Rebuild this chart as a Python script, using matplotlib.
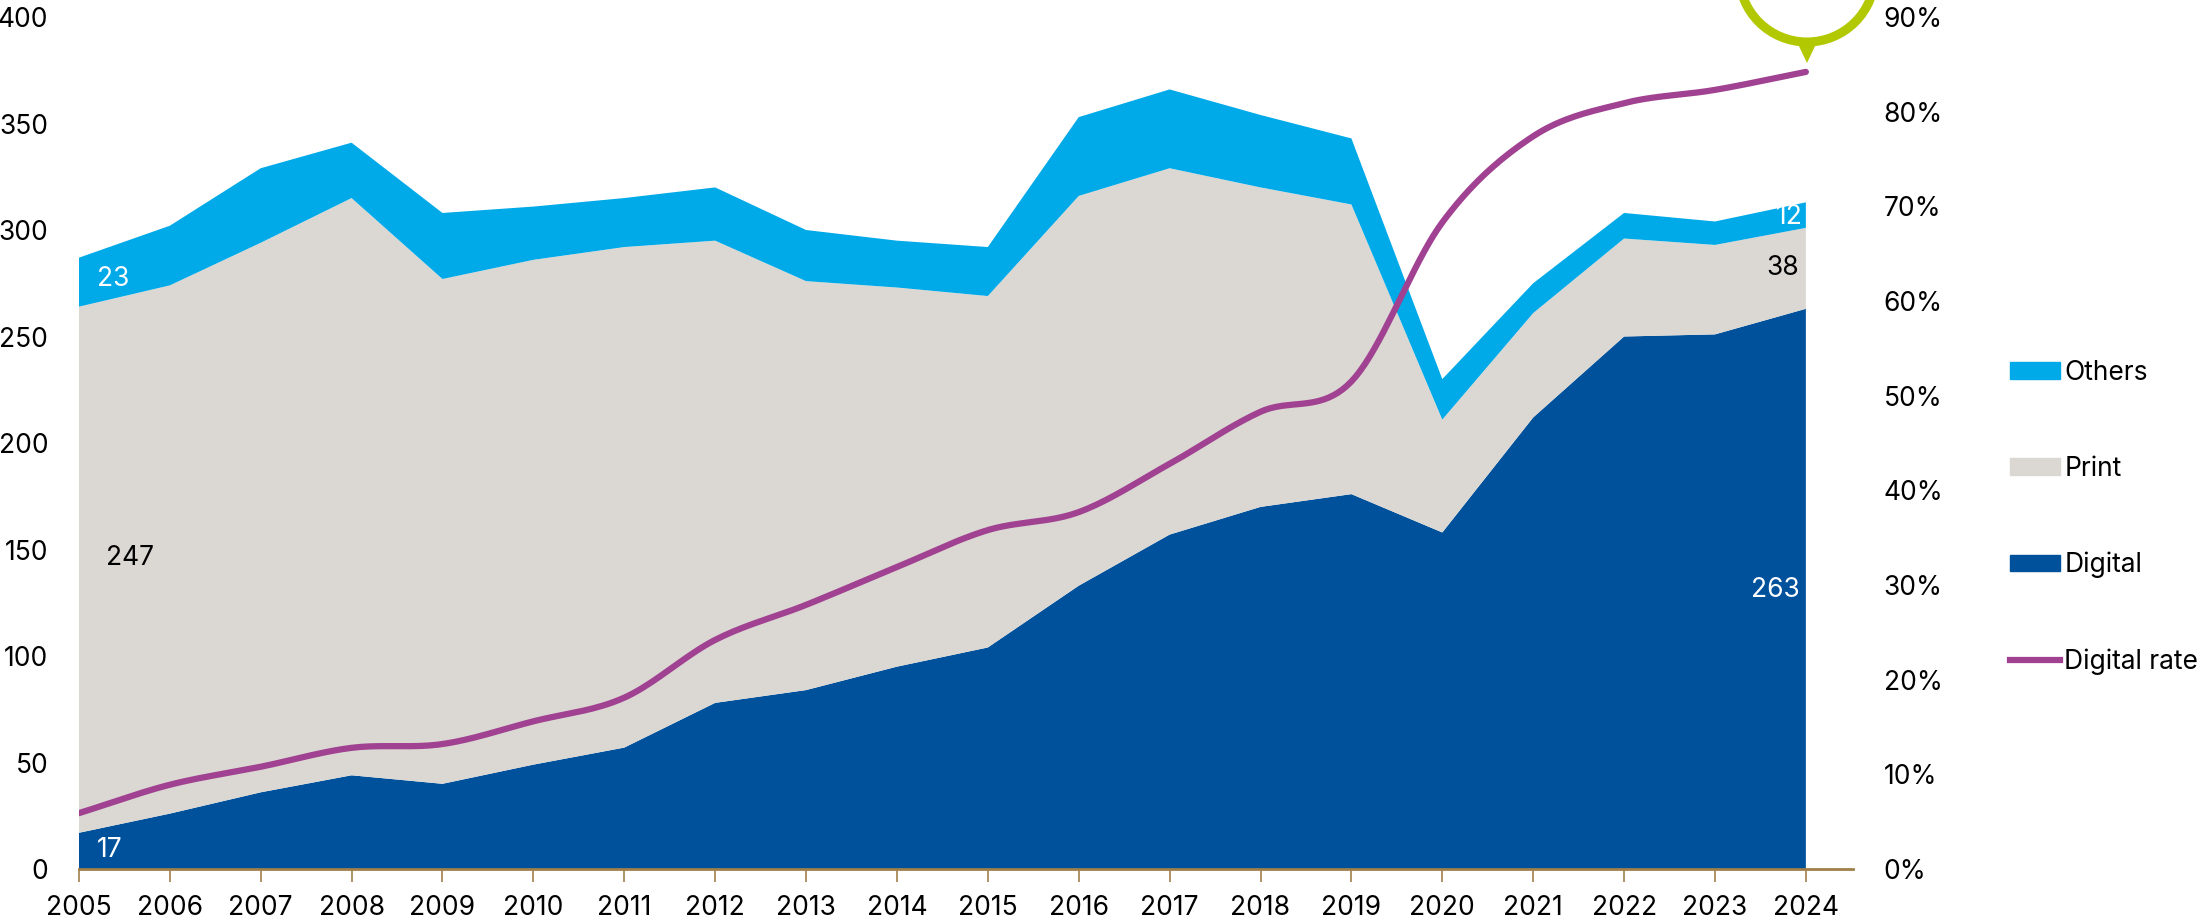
import numpy as np
import matplotlib.pyplot as plt
from matplotlib.patches import Patch, Circle, Polygon
from matplotlib.lines import Line2D

plt.rcParams['font.family'] = ['Inter', 'DejaVu Sans']

years = list(range(2005, 2025))
digital = [17, 26, 36, 44, 40, 49, 57, 78, 84, 95, 104, 133, 157, 170, 176, 158, 212, 250, 251, 263]
print_ = [247, 248, 258, 271, 237, 237, 235, 217, 192, 178, 165, 183, 172, 150, 136, 53, 49, 46, 42, 38]
others = [23, 28, 35, 26, 31, 25, 23, 25, 24, 22, 23, 37, 37, 34, 31, 19, 14, 12, 11, 12]
digital_rate = [5.9, 8.9, 10.8, 12.8, 13.2, 15.6, 18.1, 24.2, 27.9, 31.9, 35.8, 37.7, 42.8,
                48.3, 51.5, 68.3, 77.4, 80.9, 82.3, 84.2]

c_others = '#00a9e8'
c_print = '#dbd8d3'
c_digital = '#00519c'
c_rate = '#a04191'
c_axis = '#a0804a'


def smooth(x, y, n=20):
    # catmull-rom curve through the points
    x = np.asarray(x, float)
    y = np.asarray(y, float)
    px = np.concatenate([[2 * x[0] - x[1]], x, [2 * x[-1] - x[-2]]])
    py = np.concatenate([[2 * y[0] - y[1]], y, [2 * y[-1] - y[-2]]])
    xs, ys = [], []
    t = np.linspace(0, 1, n, endpoint=False)
    for i in range(1, len(px) - 2):
        for arr, out in ((px, xs), (py, ys)):
            p0, p1, p2, p3 = arr[i - 1], arr[i], arr[i + 1], arr[i + 2]
            out.extend(0.5 * ((2 * p1) + (-p0 + p2) * t + (2 * p0 - 5 * p1 + 4 * p2 - p3) * t ** 2
                              + (-p0 + 3 * p1 - 3 * p2 + p3) * t ** 3))
    xs.append(x[-1])
    ys.append(y[-1])
    return np.array(xs), np.array(ys)


fig = plt.figure(figsize=(22.04, 9.19), dpi=100)
ax = fig.add_axes([0.0358, 0.0544, 0.805, 0.9271])

ax.stackplot(years, digital, print_, others, colors=[c_digital, c_print, c_others], linewidth=0)
ax.set_xlim(2005, 2024.52)
ax.set_ylim(0, 400)
ax.set_yticks(range(0, 401, 50))
ax.set_xticks(years)
for s in ['top', 'right', 'left']:
    ax.spines[s].set_visible(False)
ax.spines['bottom'].set_color(c_axis)
ax.spines['bottom'].set_linewidth(2)
ax.tick_params(axis='x', colors=c_axis, length=9, width=1.2, labelcolor='black', labelsize=19, pad=10)
ax.tick_params(axis='y', length=0, labelsize=19, pad=22)

ax2 = ax.twinx()
sx, sy = smooth(years, digital_rate)
ax2.plot(sx, sy, color=c_rate, lw=4.5, solid_capstyle='round')
ax2.set_ylim(0, 90)
ax2.set_yticks(range(0, 91, 10))
ax2.set_yticklabels([f'{v}%' for v in range(0, 91, 10)])
for s in ['top', 'right', 'left', 'bottom']:
    ax2.spines[s].set_visible(False)
ax2.tick_params(axis='y', length=0, labelsize=19, pad=22)

# value labels
ax.text(2005.2, 277, '23', color='white', fontsize=19, va='center')
ax.text(2005.3, 146, '247', color='black', fontsize=19, va='center')
ax.text(2005.2, 9, '17', color='white', fontsize=19, va='center')
ax.text(2023.93, 131, '263', color='white', fontsize=19, va='center', ha='right')
ax.text(2023.93, 282, '38', color='black', fontsize=19, va='center', ha='right')
ax.text(2023.96, 306, '12', color='white', fontsize=19, va='center', ha='right')

handles = [Patch(color=c_others), Patch(color=c_print), Patch(color=c_digital),
           Line2D([], [], color=c_rate, lw=4.5)]
fig.legend(handles, ['Others', 'Print', 'Digital', 'Digital rate'], loc='center left',
           bbox_to_anchor=(0.912, 0.437), frameon=False, fontsize=19, labelspacing=2.65,
           handlelength=1.9, handletextpad=0.15, handleheight=0.6, borderpad=0, borderaxespad=0)

# green marker at top right
ov = fig.add_axes([0, 0, 1, 1], facecolor='none')
ov.set_xlim(0, 2204)
ov.set_ylim(919, 0)
ov.axis('off')
ov.add_patch(Circle((1807, -26), 68, fill=False, edgecolor='#b2c800', lw=6.5))
ov.add_patch(Polygon([(1797, 42), (1817, 42), (1807, 63)], closed=True, color='#b2c800', lw=0))

fig.savefig('out.png', dpi=100)
